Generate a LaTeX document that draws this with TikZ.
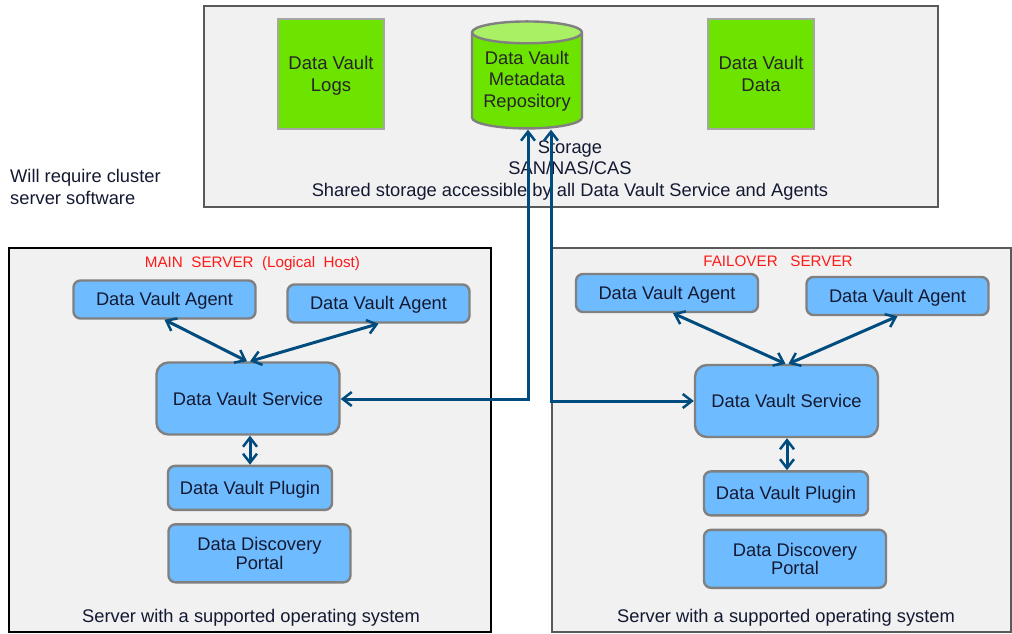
\documentclass[tikz,border=0pt]{standalone}
\usepackage{fontspec}
\setmainfont{Liberation Sans}
\usepackage{xcolor}
\usetikzlibrary{positioning}
\usetikzlibrary{shapes.geometric}
\usetikzlibrary{arrows.meta}
\definecolor{vaultblue} {RGB} {110,188,255}
\definecolor{vaultgreen} {RGB} {109,227,0}
\definecolor{vaultlight} {RGB} {170,240,100}
\definecolor{linkblue} {RGB} {0,76,127}
\definecolor{panelgray} {RGB} {241,241,241}
\definecolor{edgegray} {RGB} {128,128,128}
\definecolor{inktext} {RGB} {20,25,50}
\tikzset{>={Straight Barb[length=9pt,width=14pt,line width=2.5pt]}}
\tikzset{panel/.style={rectangle,fill=panelgray,draw=#1,line width=2.2pt,inner sep=0pt,outer sep=0pt,anchor=north west}}
\tikzset{store/.style={rectangle,fill=vaultgreen,draw=black!35,line width=2.5pt,minimum width=106pt,minimum height=110pt,align=center,inner sep=0pt,text=black!85,font=\fontsize{18.5}{22.5}\selectfont}}
\tikzset{vbox/.style={rectangle,rounded corners=7pt,fill=vaultblue,draw=edgegray,line width=2.4pt,align=center,inner sep=0pt,text=inktext,font=\fontsize{18.3}{18.5}\selectfont}}
\tikzset{agent/.style={vbox,minimum width=182pt,minimum height=38pt,text height=14.5pt,text depth=2pt}}
\tikzset{service/.style={vbox,rounded corners=12pt,minimum width=183pt,minimum height=72pt}}
\tikzset{plugin/.style={vbox,minimum width=164pt,minimum height=44pt,text height=14.5pt,text depth=2pt}}
\tikzset{portal/.style={vbox,minimum width=182pt,minimum height=58pt}}
\tikzset{caption/.style={inner sep=0pt,align=center,text=inktext,font=\fontsize{18.3}{21.5}\selectfont}}
\tikzset{redlabel/.style={inner sep=0pt,text=red!90!white,font=\fontsize{15.2}{16}\selectfont}}
\tikzset{link/.style={draw=linkblue,line width=3pt}}

\begin{document}
\begin{tikzpicture}[x=1pt,y=-1pt]
  \useasboundingbox (0,0) rectangle (1012,633);

  \node [panel=black!65,minimum width=734pt,minimum height=201pt] (storage) at (204,6) {};
  \node [panel=black,minimum width=482pt,minimum height=384pt] (mainbox) at (9,248) {};
  \node [panel=black!65,minimum width=459pt,minimum height=384pt] (failbox) at (552,248) {};

  \node [store] (logs) at (331,74) {Data Vault\\\smash{Logs}};
  \node [store] (data) at (761,74) {Data Vault\\Data};
  \node [cylinder,shape border rotate=90,aspect=0.25,cylinder uses custom fill,
    cylinder body fill=vaultgreen,cylinder end fill=vaultlight,draw=black!50,line width=2.4pt,
    minimum width=110pt,minimum height=107pt,inner sep=0pt,align=center,text=black!85,
    font=\fontsize{18.3}{21.5}\selectfont] (repo) at (527,81) {Data Vault\\Metadata\\Repository};

  \node [caption] (storagetext) at (570,170.5) {Storage\\SAN/NAS/CAS\\Shared storage accessible by all Data Vault Service and Agents};
  \node [caption,align=left,anchor=west] (clusternote) at (10,187) {Will require cluster\\server software};

  % main server
  \node [redlabel] (mainlabel) at (252.5,264) {MAIN\ \ SERVER\ \ (Logical\ \ Host)};
  \node [agent] (agent1) at (164.5,299.5) {Data Vault Agent};
  \node [agent] (agent2) at (378.5,303.5) {Data Vault Agent};
  \node [service] (service1) at (248,398.5) {Data Vault Service};
  \node [plugin,below=29pt of service1,xshift=2pt] (plugin1) {Data Vault Plugin};
  \node [portal,below=12pt of plugin1,xshift=9.5pt] (portal1) {Data Discovery\\Portal};
  \node [caption] (mainos) at (251,617.5) {Server with a supported operating system};

  % failover server
  \node [redlabel] (faillabel) at (778,261) {FAILOVER\ \ \ SERVER};
  \node [agent] (agent3) at (667,293) {Data Vault Agent};
  \node [agent] (agent4) at (897.5,296) {Data Vault Agent};
  \node [service] (service2) at (786.5,401) {Data Vault Service};
  \node [plugin,below=32pt of service2,xshift=-0.5pt] (plugin2) {Data Vault Plugin};
  \node [portal,below=12pt of plugin2,xshift=9pt] (portal2) {Data Discovery\\Portal};
  \node [caption] (failos) at (786,617.5) {Server with a supported operating system};

  \draw [link,<->] (agent1.south) -- ([xshift=-1pt]service1.north);
  \draw [link,<->] (agent2.south) -- ([xshift=2pt]service1.north);
  \draw [link,<->] ([xshift=2pt]service1.south) -- ([xshift=0pt]plugin1.north);
  \draw [link,<->] ([xshift=6pt]agent3.south) -- ([xshift=-1pt]service2.north);
  \draw [link,<->] (agent4.south) -- ([xshift=2pt]service2.north);
  \draw [link,<->] ([xshift=0.5pt]service2.south) -- ([xshift=1pt]plugin2.north);

  \coordinate (bend1) at (528,399);
  \coordinate (bend2) at (551,401);
  \draw [link,<->] (service1.east |- bend1) -- (bend1) -- (bend1 |- repo.south);
  \draw [link,<->] (bend2 |- repo.south) -- (bend2) -- (service2.west |- bend2);
\end{tikzpicture}
\end{document}
